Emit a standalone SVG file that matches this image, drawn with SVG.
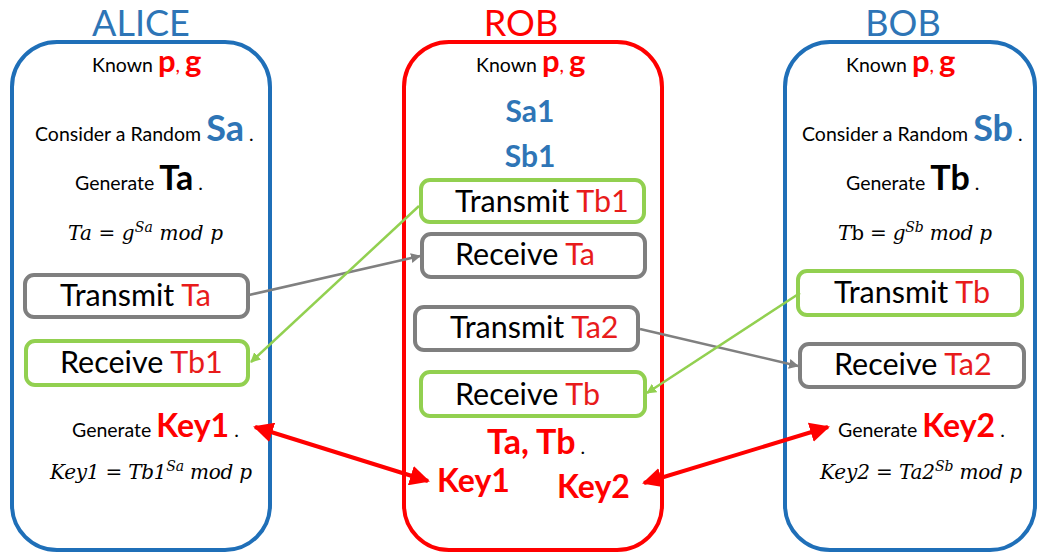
<svg xmlns="http://www.w3.org/2000/svg" width="1039" height="557" viewBox="0 0 1039 557">
  <style>
    .lane { fill: #FFFFFF; stroke-width: 4; }
    .lane-blue { stroke: #1F6FB8; }
    .lane-red { stroke: #FF0000; }
    .title { font-family: Lato, "Liberation Sans", sans-serif; font-size: 36px; }
    .txt { font-family: Lato, "Liberation Sans", sans-serif; font-size: 19.5px; }
    .big { font-weight: bold; }
    .f30 { font-size: 30px; }
    .f31 { font-size: 31px; }
    .f32 { font-size: 32px; }
    .f34 { font-size: 34px; }
    .f36 { font-size: 36px; }
    .t-blue { fill: #2E75B6; }
    .t-red { fill: #FF0000; }
    .math { font-family: "DejaVu Serif", "Liberation Serif", serif; font-style: italic; font-size: 20px; }
    .sup { font-size: 14px; }
    .up { font-style: normal; }
    .step { fill: #FFFFFF; stroke-width: 4; }
    .step-gray { stroke: #7F7F7F; }
    .step-green { stroke: #92D050; }
    .step-label { font-family: Lato, "Liberation Sans", sans-serif; font-size: 30.5px; }
    .hl { fill: #E81B1B; }
    .link { fill: none; }
    .link-gray { stroke: #808080; stroke-width: 2.5; }
    .link-green { stroke: #92D050; stroke-width: 2.5; }
    .link-red { stroke: #FF0000; stroke-width: 4; }
  </style>
  <defs>
    <marker id="head-gray" viewBox="0 0 10 10" refX="9" refY="5" markerWidth="4" markerHeight="4" orient="auto" markerUnits="strokeWidth">
      <path d="M0,0 L10,5 L0,10 z" fill="#808080"/>
    </marker>
    <marker id="head-green" viewBox="0 0 10 10" refX="9" refY="5" markerWidth="4" markerHeight="4" orient="auto" markerUnits="strokeWidth">
      <path d="M0,0 L10,5 L0,10 z" fill="#92D050"/>
    </marker>
    <marker id="head-red" viewBox="0 0 10 10" refX="9" refY="5" markerWidth="5" markerHeight="5" orient="auto-start-reverse" markerUnits="strokeWidth">
      <path d="M0,0 L10,5 L0,10 z" fill="#FF0000"/>
    </marker>
  </defs>

  <!-- ALICE -->
  <g id="alice">
    <rect class="lane lane-blue" x="12" y="42" width="258" height="508" rx="45"/>
    <text class="title t-blue" x="141" y="36" text-anchor="middle">ALICE</text>
    <text class="txt" x="92" y="72">Known <tspan class="big t-red f31">p</tspan><tspan class="t-red">, </tspan><tspan class="big t-red f31">g</tspan></text>
    <text class="txt" x="35" y="141">Consider a Random <tspan class="big t-blue f36">Sa</tspan> .</text>
    <text class="txt" x="75" y="190">Generate <tspan class="big f34">Ta</tspan> .</text>
    <text class="math" x="68" y="240" textLength="155" lengthAdjust="spacing">Ta =  g<tspan class="sup" dy="-8">Sa</tspan><tspan dy="8"> mod p</tspan></text>
    <text class="txt" x="72" y="437">Generate <tspan class="big t-red f32">Key1</tspan> .</text>
    <text class="math" x="50" y="479" textLength="202" lengthAdjust="spacing">Key1 =  Tb1<tspan class="sup" dy="-8">Sa</tspan><tspan dy="8"> mod p</tspan></text>
  </g>
  <g id="alice-transmit">
    <rect class="step step-gray" x="25" y="275" width="223" height="42" rx="9"/>
    <text class="step-label" x="60" y="306">Transmit <tspan class="hl">Ta</tspan></text>
  </g>
  <g id="alice-receive">
    <rect class="step step-green" x="26" y="341" width="222" height="44" rx="9"/>
    <text class="step-label" x="60" y="373">Receive <tspan class="hl">Tb1</tspan></text>
  </g>

  <!-- ROB -->
  <g id="rob">
    <rect class="lane lane-red" x="404" y="42" width="258" height="508" rx="45"/>
    <text class="title t-red" x="521" y="36" text-anchor="middle">ROB</text>
    <text class="txt" x="476" y="72">Known <tspan class="big t-red f31">p</tspan><tspan class="t-red">, </tspan><tspan class="big t-red f31">g</tspan></text>
    <text class="txt big t-blue f30" x="530" y="122" text-anchor="middle">Sa1</text>
    <text class="txt big t-blue f30" x="530" y="167" text-anchor="middle">Sb1</text>
    <text class="txt" x="487" y="454"><tspan class="big t-red f34">Ta, Tb</tspan> .</text>
    <text class="txt big t-red f32" x="437" y="492">Key1</text>
    <text class="txt big t-red f32" x="557" y="498">Key2</text>
  </g>
  <g id="rob-transmit-tb1">
    <rect class="step step-green" x="421" y="180" width="223" height="42" rx="9"/>
    <text class="step-label" x="455" y="212">Transmit <tspan class="hl">Tb1</tspan></text>
  </g>
  <g id="rob-receive-ta">
    <rect class="step step-gray" x="422" y="234" width="223" height="43" rx="9"/>
    <text class="step-label" x="455" y="265">Receive <tspan class="hl">Ta</tspan></text>
  </g>
  <g id="rob-transmit-ta2">
    <rect class="step step-gray" x="415" y="307" width="223" height="43" rx="9"/>
    <text class="step-label" x="450" y="338">Transmit <tspan class="hl">Ta2</tspan></text>
  </g>
  <g id="rob-receive-tb">
    <rect class="step step-green" x="421" y="372" width="224" height="44" rx="9"/>
    <text class="step-label" x="455" y="405">Receive <tspan class="hl">Tb</tspan></text>
  </g>

  <!-- BOB -->
  <g id="bob">
    <rect class="lane lane-blue" x="785" y="42" width="250" height="508" rx="45"/>
    <text class="title t-blue" x="903" y="36" text-anchor="middle">BOB</text>
    <text class="txt" x="846" y="72">Known <tspan class="big t-red f31">p</tspan><tspan class="t-red">, </tspan><tspan class="big t-red f31">g</tspan></text>
    <text class="txt" x="802" y="141">Consider a Random <tspan class="big t-blue f36">Sb</tspan> .</text>
    <text class="txt" x="846" y="190">Generate <tspan class="big f34">Tb</tspan> .</text>
    <text class="math" x="838" y="240" textLength="154" lengthAdjust="spacing">T<tspan class="up">b</tspan> =  g<tspan class="sup" dy="-8">Sb</tspan><tspan dy="8"> mod p</tspan></text>
    <text class="txt" x="838" y="437">Generate <tspan class="big t-red f32">Key2</tspan> .</text>
    <text class="math" x="820" y="479" textLength="202" lengthAdjust="spacing">Key2 =  Ta2<tspan class="sup" dy="-8">Sb</tspan><tspan dy="8"> mod p</tspan></text>
  </g>
  <g id="bob-transmit">
    <rect class="step step-green" x="798" y="271" width="224" height="44" rx="9"/>
    <text class="step-label" x="834" y="303">Transmit <tspan class="hl">Tb</tspan></text>
  </g>
  <g id="bob-receive">
    <rect class="step step-gray" x="800" y="344" width="224" height="43" rx="9"/>
    <text class="step-label" x="834" y="375">Receive <tspan class="hl">Ta2</tspan></text>
  </g>

  <!-- message and key links -->
  <g id="connectors">
    <line class="link link-gray" x1="249" y1="295" x2="420" y2="256" marker-end="url(#head-gray)"/>
    <line class="link link-green" x1="419" y1="206" x2="251" y2="362" marker-end="url(#head-green)"/>
    <line class="link link-gray" x1="640" y1="329" x2="798" y2="366" marker-end="url(#head-gray)"/>
    <line class="link link-green" x1="800" y1="293" x2="647" y2="393" marker-end="url(#head-green)"/>
    <line class="link link-red" x1="255" y1="427" x2="428" y2="481" marker-start="url(#head-red)" marker-end="url(#head-red)"/>
    <line class="link link-red" x1="644" y1="483" x2="828" y2="427" marker-start="url(#head-red)" marker-end="url(#head-red)"/>
  </g>
</svg>
